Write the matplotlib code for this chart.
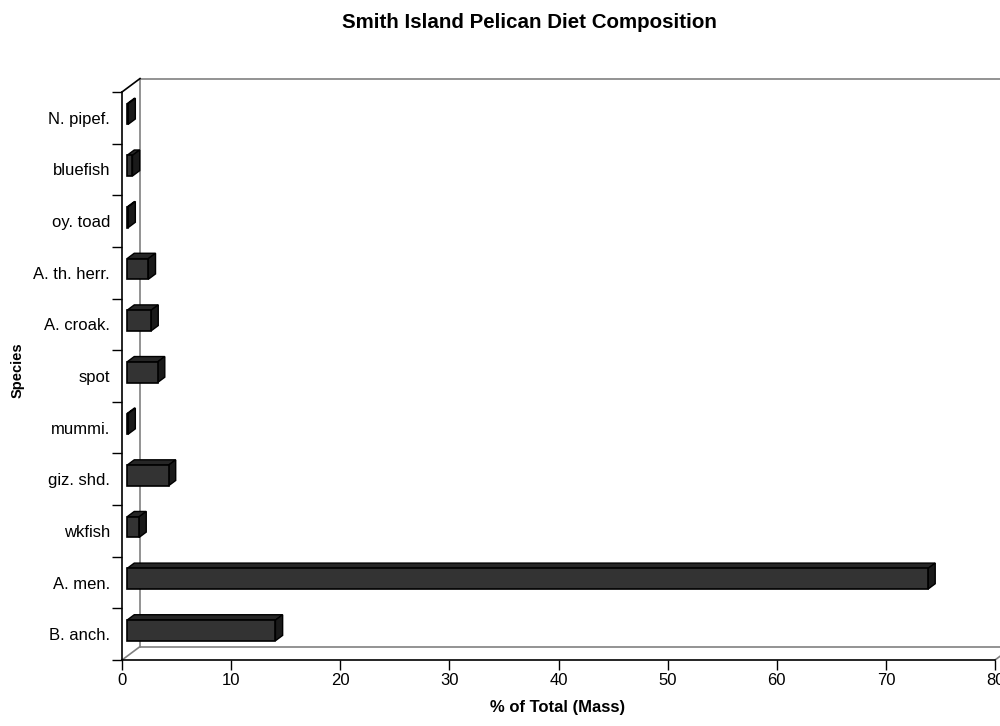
import numpy as np
import matplotlib
matplotlib.use("Agg")
import matplotlib.pyplot as plt
from matplotlib.patches import Polygon

plt.rcParams['font.family'] = ['Liberation Sans', 'DejaVu Sans']

species = ['B. anch.', 'A. men.', 'wkfish', 'giz. shd.', 'mummi.', 'spot',
           'A. croak.', 'A. th. herr.', 'oy. toad', 'bluefish', 'N. pipef.']
mass_pct = [13.6, 73.4, 1.1, 3.8, 0.1, 2.8, 2.2, 1.95, 0.1, 0.5, 0.1]
x_ticks = [0, 10, 20, 30, 40, 50, 60, 70, 80]

# pseudo-3d depth of the plot box, in data units
DX, DY = 1.65, 0.26
F0, F1 = 0.28, 0.68        # bar front/back as fraction of the depth
BAR_H = 0.40

fig = plt.figure(figsize=(10, 7.26), dpi=100)
ax = fig.add_axes([0.122, 0.0909, 0.873, 0.7824])

n = len(species)
ax.set_xlim(0, 80)
ax.set_ylim(-0.5, n - 0.5)

wall = dict(color='#808080', lw=1.2, clip_on=False, zorder=1)
ax.plot([DX, DX], [-0.5 + DY, n - 0.5 + DY], **wall)
ax.plot([DX, 80 + DX + 5], [n - 0.5 + DY] * 2, **wall)
ax.plot([DX, 80 + DX + 5], [-0.5 + DY] * 2, **wall)
ax.plot([0, DX], [-0.5, -0.5 + DY], **wall)
ax.plot([80, 80 + DX], [-0.5, -0.5 + DY], **wall)
ax.plot([0, DX], [n - 0.5, n - 0.5 + DY], color='black', lw=1.2,
        clip_on=False, zorder=1)

y = np.arange(n)
ax.barh(y + F0 * DY, mass_pct, left=F0 * DX, height=BAR_H,
        color='#333333', edgecolor='black', linewidth=1.2, zorder=4)

for yi, v in zip(y, mass_pct):
    x0, x1 = F0 * DX, v + F0 * DX
    yb, yt = yi + F0 * DY - BAR_H / 2, yi + F0 * DY + BAR_H / 2
    ddx, ddy = (F1 - F0) * DX, (F1 - F0) * DY
    top = Polygon([(x0, yt), (x1, yt), (x1 + ddx, yt + ddy), (x0 + ddx, yt + ddy)],
                  closed=True, facecolor='#262626', edgecolor='black',
                  lw=1.0, zorder=3, clip_on=False)
    side = Polygon([(x1, yb), (x1 + ddx, yb + ddy), (x1 + ddx, yt + ddy), (x1, yt)],
                   closed=True, facecolor='#1a1a1a', edgecolor='black',
                   lw=1.0, zorder=3, clip_on=False)
    ax.add_patch(top)
    ax.add_patch(side)

for s in ['top', 'right']:
    ax.spines[s].set_visible(False)
for s in ['left', 'bottom']:
    ax.spines[s].set_linewidth(1.2)
    ax.spines[s].set_zorder(5)

ax.set_xticks(x_ticks)
ax.tick_params(axis='x', length=7, width=1, pad=2, labelsize=12)
ax.set_yticks(y)
ax.set_yticklabels(species)
ax.set_yticks(np.arange(-0.5, n, 1.0), minor=True)
ax.tick_params(axis='y', which='major', length=0, pad=8.6, labelsize=12)
ax.tick_params(axis='y', which='minor', length=7, width=1)

fig.text(0.529, 0.969, 'Smith Island Pelican Diet Composition',
         ha='center', va='center', fontsize=14.8, fontweight='bold')
fig.text(0.558, 0.025, '% of Total (Mass)', ha='center', va='center',
         fontsize=12, fontweight='bold')
fig.text(0.0175, 0.490, 'Species', ha='center', va='center',
         rotation=90, fontsize=10.5, fontweight='bold')

fig.savefig('out.png', dpi=100)
